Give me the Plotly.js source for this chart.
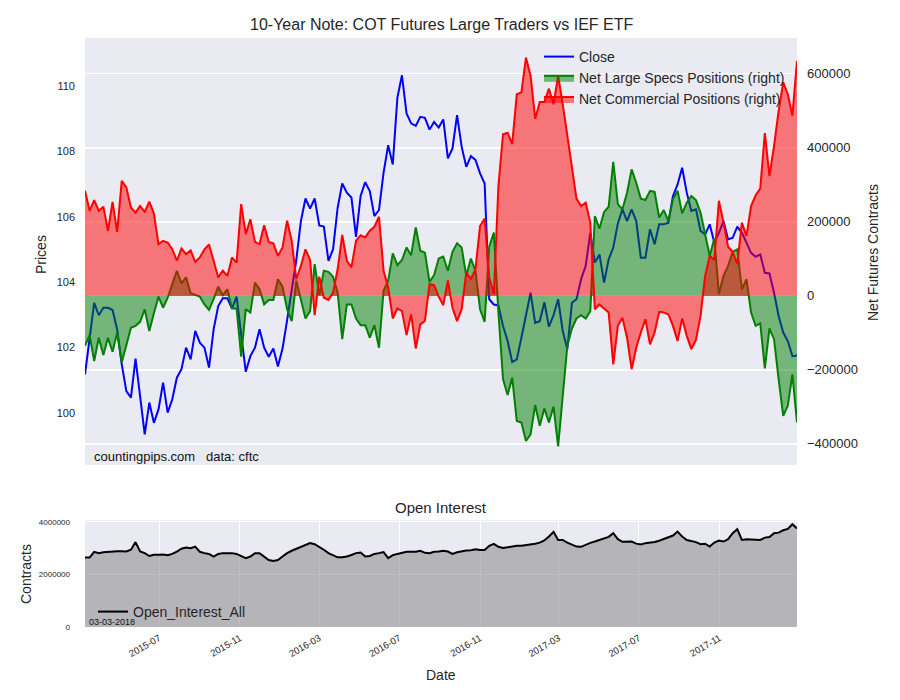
<!DOCTYPE html>
<html><head><meta charset="utf-8">
<script src="https://cdn.plot.ly/plotly-3.0.1.min.js"></script>
<style>html,body{margin:0;padding:0;background:#fff}#chart{width:900px;height:700px}</style>
</head><body><div id="chart"></div>
<script>
// weekly COT report dates start (Tuesday)
const firstWeek = '2015-03-10';

const closePrice = [101.18, 102.2, 103.37, 102.99, 103.22, 103.22, 103.15, 102.56, 101.49, 100.67,
 100.47, 101.66, 100.52, 99.35, 100.32, 99.70, 100.11, 100.93, 100.01, 100.42,
 101.08, 101.34, 102.00, 101.64, 102.51, 102.15, 102.00, 101.39, 102.56, 103.27,
 103.51, 103.51, 103.19, 103.56, 102.4, 101.26, 101.74, 102.0, 102.56, 102.0,
 101.72, 101.97, 101.42, 101.97, 102.84, 103.71, 104.68, 105.87, 106.56, 106.25,
 106.56, 105.74, 105.70, 104.65, 105.01, 106.28, 107.02, 106.74, 106.59, 105.39,
 106.64, 107.06, 106.79, 106.02, 106.21, 107.35, 108.19, 107.60, 109.64, 110.33,
 109.16, 108.86, 108.78, 109.06, 109.03, 108.67, 108.90, 108.73, 108.98, 107.79,
 108.09, 109.11, 108.14, 107.53, 107.86, 107.74, 107.33, 107.02, 103.48, 103.32,
 103.29, 102.66, 102.20, 101.56, 101.64, 102.30, 103.02, 103.68, 102.76, 102.81,
 103.39, 102.64, 102.99, 103.48, 102.51, 101.95, 103.37, 103.48, 104.09, 104.50,
 105.51, 104.60, 104.85, 103.99, 104.70, 105.06, 105.80, 106.23, 105.87, 106.23,
 105.87, 104.75, 104.75, 105.62, 105.16, 105.77, 105.77, 105.82, 106.64, 106.99,
 107.50, 106.74, 106.18, 106.23, 105.57, 105.46, 105.77, 105.21, 105.51, 105.87,
 105.31, 105.36, 105.70, 105.51, 105.21, 104.90, 104.78, 104.85, 104.29, 104.27,
 103.68, 102.97, 102.46, 102.20, 101.74, 101.76];

const netLargeSpecs = [-135000, -106000, -176000, -113000, -160000, -113000, -151000, -99000, -180000, -133000,
 -86000, -81000, -70000, -36000, -95000, -47000, -2000, -32000, -5000, 32000,
 68000, 34000, 50000, 7000, 2000, -2000, -23000, -38000, -9000, 25000,
 2000, 18000, -34000, -34000, -164000, -36000, -45000, 36000, 18000, -23000,
 -11000, -11000, 45000, 25000, -36000, -68000, 41000, -9000, -61000, -41000,
 86000, 2000, 68000, 65000, 52000, 9000, -117000, -23000, -23000, -61000,
 -79000, -79000, -113000, -79000, -140000, 14000, 41000, 115000, 83000, 97000,
 131000, 110000, 185000, 122000, 117000, 38000, 56000, 101000, 106000, 68000,
 119000, 142000, 131000, 54000, 101000, 68000, -36000, -70000, 133000, 171000,
 -45000, -225000, -268000, -221000, -338000, -342000, -392000, -374000, -295000, -351000,
 -304000, -342000, -299000, -407000, -270000, -135000, -88000, -61000, -52000, -61000,
 -41000, 216000, 182000, 227000, 241000, 362000, 248000, 234000, 279000, 342000,
 306000, 263000, 259000, 284000, 281000, 212000, 232000, 203000, 261000, 284000,
 223000, 252000, 270000, 259000, 225000, 169000, 108000, 155000, 5000, 54000,
 81000, 119000, 126000, 18000, 45000, -45000, -81000, -74000, -196000, -88000,
 -117000, -225000, -324000, -297000, -212000, -342000];

const netCommercial = [284000, 230000, 259000, 230000, 241000, 176000, 254000, 173000, 311000, 293000,
 239000, 225000, 243000, 227000, 255000, 223000, 140000, 149000, 144000, 126000,
 95000, 128000, 113000, 123000, 92000, 104000, 126000, 139000, 95000, 50000,
 68000, 54000, 104000, 90000, 248000, 167000, 207000, 146000, 140000, 191000,
 146000, 142000, 108000, 131000, 203000, 149000, 45000, 81000, 126000, 97000,
 -52000, 52000, -5000, -11000, 9000, 72000, 165000, 95000, 77000, 149000,
 164000, 158000, 176000, 187000, 214000, 68000, 23000, -61000, -34000, -41000,
 -106000, -50000, -142000, -77000, -68000, 32000, 29000, -2000, -25000, 42000,
 -32000, -68000, -36000, 63000, 45000, 72000, 189000, 209000, 50000, 5000,
 297000, 437000, 441000, 410000, 545000, 550000, 644000, 595000, 479000, 524000,
 524000, 560000, 518000, 595000, 518000, 432000, 338000, 263000, 243000, 252000,
 198000, -36000, -23000, -34000, -45000, -185000, -81000, -59000, -113000, -198000,
 -140000, -99000, -63000, -131000, -99000, -43000, -45000, -50000, -81000, -122000,
 -61000, -108000, -144000, -119000, -54000, 54000, 108000, 97000, 257000, 198000,
 133000, 119000, 86000, 198000, 162000, 243000, 272000, 290000, 440000, 324000,
 405000, 500000, 577000, 545000, 487000, 635000];

const openInterest = [2640000, 2640000, 2860000, 2810000, 2840000, 2860000, 2870000, 2880000, 2880000, 2870000,
 2940000, 3230000, 2870000, 2810000, 2700000, 2750000, 2750000, 2760000, 2730000, 2780000,
 2870000, 2980000, 3020000, 3000000, 3060000, 2860000, 2810000, 2780000, 2680000, 2780000,
 2810000, 2820000, 2810000, 2780000, 2700000, 2620000, 2680000, 2810000, 2810000, 2680000,
 2550000, 2510000, 2550000, 2680000, 2810000, 2900000, 2970000, 3040000, 3090000, 3190000,
 3150000, 3060000, 2940000, 2810000, 2720000, 2650000, 2650000, 2680000, 2740000, 2810000,
 2830000, 2680000, 2700000, 2780000, 2810000, 2850000, 2620000, 2730000, 2780000, 2830000,
 2860000, 2860000, 2860000, 2900000, 2820000, 2810000, 2860000, 2870000, 2900000, 2870000,
 2780000, 2840000, 2880000, 2910000, 2920000, 2960000, 2930000, 2930000, 3090000, 3160000,
 3050000, 3010000, 3030000, 3060000, 3090000, 3090000, 3110000, 3140000, 3170000, 3210000,
 3290000, 3440000, 3620000, 3310000, 3310000, 3210000, 3140000, 3060000, 3050000, 3140000,
 3200000, 3250000, 3310000, 3360000, 3430000, 3570000, 3340000, 3240000, 3240000, 3250000,
 3170000, 3140000, 3190000, 3210000, 3230000, 3280000, 3350000, 3420000, 3480000, 3630000,
 3440000, 3310000, 3270000, 3230000, 3150000, 3170000, 3060000, 3210000, 3290000, 3250000,
 3340000, 3570000, 3720000, 3310000, 3340000, 3330000, 3310000, 3310000, 3400000, 3420000,
 3570000, 3590000, 3680000, 3730000, 3910000, 3750000];

const priceTicks = [100, 102, 104, 106, 108, 110];
const contractTicks = [-400000, -200000, 0, 200000, 400000, 600000];
const contractTickText = ['\u2212400000', '\u2212200000', '0', '200000', '400000', '600000'];
const oiTicks = [0, 2000000, 4000000];
const oiTickText = ['0', '2000000', '4000000'];
const dateTicks = ['2015-07-01', '2015-11-01', '2016-03-01', '2016-07-01', '2016-11-01', '2017-03-01', '2017-07-01', '2017-11-01'];
const dateTickText = ['2015-07', '2015-11', '2016-03', '2016-07', '2016-11', '2017-03', '2017-07', '2017-11'];

const dates = closePrice.map((_, i) => {
  const d = new Date(firstWeek + 'T00:00:00Z');
  d.setUTCDate(d.getUTCDate() + 7 * i);
  return d.toISOString().slice(0, 10);
});
const xRange = [dates[0], dates[dates.length - 1]];

const traces = [
  {x: dates, y: closePrice, name: 'Close', type: 'scatter', mode: 'lines', xaxis: 'x', yaxis: 'y',
   line: {color: '#0000ff', width: 2}, legend: 'legend'},
  {x: dates, y: netLargeSpecs, name: 'Net Large Specs Positions (right)', type: 'scatter', mode: 'lines',
   xaxis: 'x', yaxis: 'y2', fill: 'tozeroy', fillcolor: 'rgba(0,128,0,0.5)', line: {color: '#008000', width: 2}, legend: 'legend'},
  {x: dates, y: netCommercial, name: 'Net Commercial Positions (right)', type: 'scatter', mode: 'lines',
   xaxis: 'x', yaxis: 'y2', fill: 'tozeroy', fillcolor: 'rgba(255,0,0,0.5)', line: {color: '#ff0000', width: 2}, legend: 'legend'},
  {x: dates, y: openInterest, name: 'oi_fill', type: 'scatter', mode: 'lines', xaxis: 'x2', yaxis: 'y3',
   fill: 'tozeroy', fillcolor: 'rgba(128,128,128,0.5)', line: {color: 'rgba(0,0,0,0)', width: 0}, showlegend: false, hoverinfo: 'skip'},
  {x: dates, y: openInterest, name: 'Open_Interest_All', type: 'scatter', mode: 'lines', xaxis: 'x2', yaxis: 'y3',
   line: {color: '#000000', width: 2}, legend: 'legend2'}
];

const L = 85, R = 797, T = 38, B = 627;
const px = x => (x - L) / (R - L);
const py = y => (B - y) / (B - T);
const txt = '#262626';
const ff = 'Liberation Sans, Arial, Helvetica, sans-serif';

const layout = {
  width: 900, height: 700,
  paper_bgcolor: '#ffffff', plot_bgcolor: '#EAEAF2',
  margin: {l: L, r: 900 - R, t: T, b: 700 - B, pad: 0},
  font: {family: ff, color: txt, size: 12},
  showlegend: true,
  xaxis: {domain: [0, 1], anchor: 'y', type: 'date', range: xRange, showticklabels: false,
    showgrid: false, zeroline: false, showline: false, ticks: ''},
  yaxis: {domain: [py(465), 1], anchor: 'x', range: [98.41, 111.47], tickvals: priceTicks,
    showgrid: false, zeroline: false, showline: false, ticks: '', tickfont: {size: 11, color: txt},
    ticklabelstandoff: 9},
  yaxis2: {overlaying: 'y', side: 'right', anchor: 'x', range: [-457000, 697000],
    tickvals: contractTicks, ticktext: contractTickText, showgrid: true, gridcolor: '#ffffff', gridwidth: 1.2,
    zeroline: false, showline: false, ticks: '', tickfont: {size: 13, color: txt}, ticklabelstandoff: 9},
  xaxis2: {domain: [0, 1], anchor: 'y3', type: 'date', range: xRange, tickvals: dateTicks, ticktext: dateTickText,
    tickangle: -30, tickfont: {size: 9.5, color: txt}, showgrid: true, gridcolor: '#ffffff', gridwidth: 1,
    zeroline: false, showline: false, ticks: '', ticklabelstandoff: 3},
  yaxis3: {domain: [0, py(520)], anchor: 'x2', range: [0, 4070000], tickvals: oiTicks, ticktext: oiTickText,
    tickfont: {size: 8, color: txt}, showgrid: true, gridcolor: '#ffffff', gridwidth: 1,
    zeroline: false, showline: false, ticks: '', ticklabelstandoff: 14},
  legend: {x: px(539), y: py(41), xanchor: 'left', yanchor: 'top', bgcolor: 'rgba(0,0,0,0)',
    font: {size: 14, color: txt, family: ff}, borderwidth: 0},
  legend2: {x: px(93), y: py(596), xanchor: 'left', yanchor: 'top', bgcolor: 'rgba(0,0,0,0)',
    font: {size: 14, color: txt, family: ff}, borderwidth: 0},
  annotations: [
    {text: '10-Year Note: COT Futures Large Traders vs IEF ETF', xref: 'paper', yref: 'paper', x: px(441), y: py(24),
     xanchor: 'center', yanchor: 'middle', showarrow: false, font: {size: 16, color: txt}},
    {text: 'Open Interest', xref: 'paper', yref: 'paper', x: px(441), y: py(507),
     xanchor: 'center', yanchor: 'middle', showarrow: false, font: {size: 15, color: txt}},
    {text: 'Prices', xref: 'paper', yref: 'paper', x: px(41), y: py(255), textangle: -90,
     xanchor: 'center', yanchor: 'middle', showarrow: false, font: {size: 14, color: txt}},
    {text: 'Net Futures Contracts', xref: 'paper', yref: 'paper', x: px(873), y: py(253), textangle: -90,
     xanchor: 'center', yanchor: 'middle', showarrow: false, font: {size: 14, color: txt}},
    {text: 'Contracts', xref: 'paper', yref: 'paper', x: px(26), y: py(574), textangle: -90,
     xanchor: 'center', yanchor: 'middle', showarrow: false, font: {size: 14, color: txt}},
    {text: 'Date', xref: 'paper', yref: 'paper', x: px(441), y: py(675),
     xanchor: 'center', yanchor: 'middle', showarrow: false, font: {size: 14, color: txt}},
    {text: 'countingpips.com&nbsp;&nbsp;&nbsp;data: cftc', xref: 'paper', yref: 'paper', x: px(92), y: py(457),
     xanchor: 'left', yanchor: 'middle', showarrow: false, font: {size: 13, color: '#111111'}},
    {text: '03-03-2018', xref: 'paper', yref: 'paper', x: px(87), y: py(622),
     xanchor: 'left', yanchor: 'middle', showarrow: false, font: {size: 9, color: '#111111'}}
  ]
};

Plotly.newPlot('chart', traces, layout, {displayModeBar: false, staticPlot: true});
</script>
</body></html>
